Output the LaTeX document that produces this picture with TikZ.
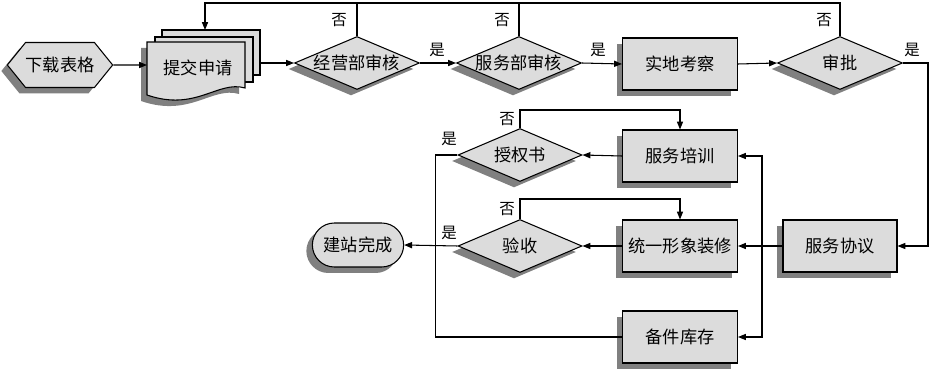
\documentclass[tikz,border=0pt]{standalone}
\usepackage{fontspec}
\setmainfont{Noto Sans CJK SC}
\usepackage{tikz}
\usetikzlibrary{arrows.meta,calc,shadows,shapes.geometric,shapes.symbols,shapes.misc}
\definecolor{boxgray}{HTML}{DCDCDC}
\definecolor{shadowgray}{HTML}{808080}

\tikzset{
  shadowed/.style={general shadow={fill=shadowgray,shadow xshift=-0.12cm,shadow yshift=-0.12cm}},
  line/.style={line width=0.6pt},
  arr/.style={line,-{Triangle[length=4.5pt,width=3.5pt]}},
  txt/.style={font=\fontsize{9.8}{11}\selectfont},
  lab/.style={font=\fontsize{8.8}{9}\selectfont,inner sep=0pt},
  box/.style={rectangle,draw,line width=0.6pt,fill=boxgray,txt,minimum width=2.3cm,minimum height=1.04cm,shadowed},
  dec/.style={diamond,draw,line width=0.6pt,fill=boxgray,txt,aspect=2.35,inner sep=0pt,minimum width=2.5cm,minimum height=1.06cm,shadowed}
}

\begin{document}
\begin{tikzpicture}[x=0.02cm,y=-0.02cm]
    \useasboundingbox (0,0) rectangle (930,371);
    % top row
    \node[signal,signal to=west and east,signal pointer angle=102,draw,line width=0.6pt,fill=boxgray,txt,
          minimum width=2.08cm,minimum height=0.9cm,inner sep=0pt,shadowed] (xzbg) at (60,65) {下载表格};
    \fill[boxgray] (162,30) rectangle (260,75);
    \draw[line] (162,30) rectangle (260,75);
    \filldraw[line,fill=boxgray] (155,37) rectangle (253,82);
    \fill[shadowgray] (141,48) -- (239,48) -- (239,94) .. controls (212,86) and (190,118) .. (141,101) -- cycle;
    \filldraw[line,fill=boxgray] (147,42) -- (245,42) -- (245,88) .. controls (218,80) and (196,112) .. (147,95) -- cycle;
    \node[txt,inner sep=0pt] (tjsq) at (198,68) {提交申请};
    \coordinate (tjsqin) at (147,65);
    \coordinate (tjsqtop) at (205,30);
    \coordinate (tjsqout) at (260,63);
    \node[dec] (jysh) at (357,63) {经营部审核};
    \node[dec] (fwsh) at (519,63) {服务部审核};
    \node[box] (sdkc) at (680,64) {实地考察};
    \node[dec] (sp) at (840,63) {审批};
    % lower part
    \node[box] (fwpx) at (680,156) {服务培训};
    \node[box] (tyxx) at (680,246) {统一形象装修};
    \node[box] (bjkc) at (680,337) {备件库存};
    \node[box,minimum width=2.28cm] (fwxy) at (840,246) {服务协议};
    \node[dec,minimum width=2.48cm] (sqs) at (520,155) {授权书};
    \node[dec,minimum width=2.48cm] (ys) at (520,246) {验收};
    \node[rounded rectangle,draw,line width=0.6pt,fill=boxgray,txt,minimum width=2.06cm,minimum height=0.88cm,shadowed] (jzwc) at (358,245) {建站完成};
    % connectors
    \coordinate (top) at (205,3);
    \draw[arr] (xzbg) -- (tjsqin);
    \draw[arr] (tjsqout) -- (jysh.west);
    \draw[arr] (jysh.east) -- (fwsh.west);
    \draw[arr] (fwsh.east) -- (sdkc.west);
    \draw[arr] (sdkc.east) -- (sp.west);
    \draw[arr] (sp.north) |- (top) -- (tjsqtop);
    \draw[line] (jysh.north) -- (jysh.north |- top);
    \draw[line] (fwsh.north) -- (fwsh.north |- top);
    \draw[arr] (sp.east) -- ++(25,0) |- (fwxy.east);
    \draw[arr] (fwxy.west) -- (tyxx.east);
    \coordinate (bus) at (762,246);
    \draw[arr] (bus) |- (fwpx.east);
    \draw[arr] (bus) |- (bjkc.east);
    \draw[arr] (fwpx.west) -- (sqs.east);
    \draw[arr] (tyxx.west) -- (ys.east);
    \draw[arr] (sqs.north) -- ++(0,-18) -| (fwpx.north);
    \draw[arr] (ys.north) -- ++(0,-20) -| (tyxx.north);
    \draw[arr] (ys.west) -- (jzwc.east);
    \draw[line] (sqs.west) -- ++(-22,0) |- (bjkc.west);
    % labels
    \node[lab] (no1) at (339,20) {否};
    \node[lab] (no2) at (502,20) {否};
    \node[lab] (no3) at (824,20) {否};
    \node[lab] (no4) at (507,119) {否};
    \node[lab] (no5) at (507,209) {否};
    \node[lab] (yes1) at (437,50) {是};
    \node[lab] (yes2) at (598,50) {是};
    \node[lab] (yes3) at (912,50) {是};
    \node[lab] (yes4) at (449,139) {是};
    \node[lab] (yes5) at (449,233) {是};
  \end{tikzpicture}
\end{document}
